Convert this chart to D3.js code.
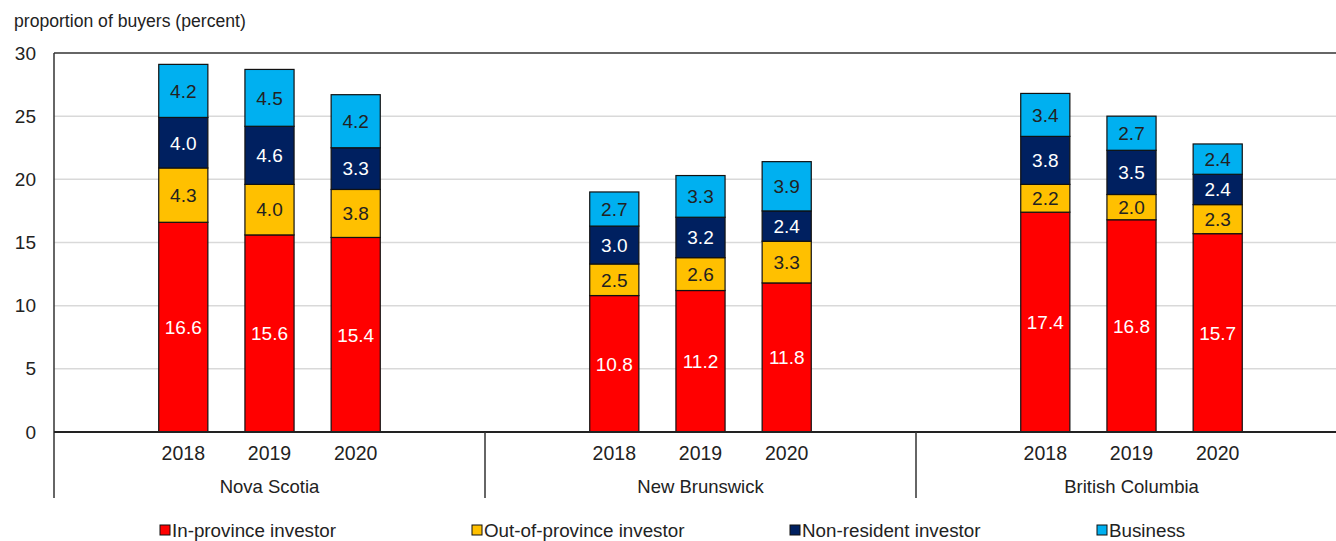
<!DOCTYPE html>
<html>
<head>
<meta charset="utf-8">
<script src="https://cdn.jsdelivr.net/npm/d3@7"></script>
<style>
  html, body { margin: 0; padding: 0; background: #fff; }
  svg { display: block; font-family: "Liberation Sans", Arial, sans-serif; }
</style>
</head>
<body>
<svg id="chart" width="1336" height="541"></svg>
<script>
// Provinces and years shown on the two-level category axis
const provinces = ["Nova Scotia", "New Brunswick", "British Columbia"];
const years = ["2018", "2019", "2020"];

// Buyer types (stack order, bottom to top)
const seriesNames = ["In-province investor", "Out-of-province investor", "Non-resident investor", "Business"];
const seriesColors = ["#ff0000", "#ffc000", "#002060", "#00b0f0"];
const labelColors = ["#ffffff", "#222222", "#ffffff", "#222222"];

// Values per province, one array per buyer type, in year order
const inProvince    = [[16.6, 15.6, 15.4], [10.8, 11.2, 11.8], [17.4, 16.8, 15.7]];
const outOfProvince = [[4.3, 4.0, 3.8],    [2.5, 2.6, 3.3],    [2.2, 2.0, 2.3]];
const nonResident   = [[4.0, 4.6, 3.3],    [3.0, 3.2, 2.4],    [3.8, 3.5, 2.4]];
const business      = [[4.2, 4.5, 4.2],    [2.7, 3.3, 3.9],    [3.4, 2.7, 2.4]];

const yTicks = [0, 5, 10, 15, 20, 25, 30];
const yTitle = "proportion of buyers (percent)";

// Flatten into rows for stacking
const rows = [];
provinces.forEach((p, pi) => {
  years.forEach((yr, yi) => {
    rows.push({
      key: p + "|" + yr, province: p, year: yr,
      [seriesNames[0]]: inProvince[pi][yi],
      [seriesNames[1]]: outOfProvince[pi][yi],
      [seriesNames[2]]: nonResident[pi][yi],
      [seriesNames[3]]: business[pi][yi]
    });
  });
});

const svg = d3.select("#chart");
const plotLeft = 54, plotRight = 1347, plotTop = 53, plotBottom = 432;
const textColor = "#222";

// Each province occupies five slots: an empty one either side of its three years
const slots = [];
provinces.forEach(p => {
  slots.push(p + "|_a");
  years.forEach(yr => slots.push(p + "|" + yr));
  slots.push(p + "|_b");
});

const x = d3.scaleBand().domain(slots).range([plotLeft, plotRight]).paddingInner(0.43).paddingOuter(0.215);
const xGroup = d3.scaleBand().domain(provinces).range([plotLeft, plotRight]);
const y = d3.scaleLinear().domain([0, 30]).range([plotBottom, plotTop]);

// Gridlines
svg.append("g")
  .selectAll("line")
  .data(yTicks.filter(t => t > 0 && t < 30))
  .join("line")
  .attr("x1", plotLeft).attr("x2", plotRight)
  .attr("y1", d => y(d)).attr("y2", d => y(d))
  .attr("stroke", "#d9d9d9").attr("stroke-width", 1.5);

// Plot frame: top and left edges
svg.append("line").attr("x1", plotLeft).attr("x2", plotRight).attr("y1", plotTop).attr("y2", plotTop)
  .attr("stroke", "#333").attr("stroke-width", 1.5);
svg.append("line").attr("x1", plotLeft).attr("x2", plotLeft).attr("y1", plotTop).attr("y2", 498)
  .attr("stroke", "#333").attr("stroke-width", 1.5);

// Y axis labels
const yAxis = d3.axisLeft(y).tickValues(yTicks).tickSize(0).tickPadding(18);
const gy = svg.append("g").attr("transform", `translate(${plotLeft},0)`).call(yAxis);
gy.select(".domain").remove();
gy.selectAll("text").attr("font-size", 19).attr("fill", textColor)
  .style("font-family", "inherit");

// Axis title
svg.append("text").attr("x", 14).attr("y", 27)
  .attr("font-size", 17.6).attr("fill", textColor).text(yTitle);

// Stacked bars
const stack = d3.stack().keys(seriesNames);
const stacked = stack(rows);

const layers = svg.append("g").selectAll("g")
  .data(stacked)
  .join("g")
  .attr("fill", (d, i) => seriesColors[i]);

layers.selectAll("rect")
  .data(d => d)
  .join("rect")
  .attr("x", d => x(d.data.key))
  .attr("width", x.bandwidth())
  .attr("y", d => y(d[1]))
  .attr("height", d => y(d[0]) - y(d[1]))
  .attr("stroke", "#111").attr("stroke-width", 1.2);

// Value labels in each segment
stacked.forEach((layer, i) => {
  svg.append("g").selectAll("text")
    .data(layer)
    .join("text")
    .attr("x", d => x(d.data.key) + x.bandwidth() / 2)
    .attr("y", d => y((d[0] + d[1]) / 2))
    .attr("dy", "0.36em")
    .attr("text-anchor", "middle")
    .attr("font-size", 19)
    .attr("fill", labelColors[i])
    .text(d => d3.format(".1f")(d[1] - d[0]));
});

// Baseline
svg.append("line").attr("x1", plotLeft).attr("x2", plotRight).attr("y1", plotBottom).attr("y2", plotBottom)
  .attr("stroke", "#222").attr("stroke-width", 2);

// Year labels
svg.append("g").selectAll("text")
  .data(rows)
  .join("text")
  .attr("x", d => x(d.key) + x.bandwidth() / 2)
  .attr("y", 460)
  .attr("text-anchor", "middle")
  .attr("font-size", 19.5).attr("fill", textColor)
  .text(d => d.year);

// Province labels and separators
svg.append("g").selectAll("text")
  .data(provinces)
  .join("text")
  .attr("x", d => xGroup(d) + xGroup.bandwidth() / 2)
  .attr("y", 493)
  .attr("text-anchor", "middle")
  .attr("font-size", 18.5).attr("fill", textColor)
  .text(d => d);

svg.append("g").selectAll("line")
  .data(provinces.slice(1))
  .join("line")
  .attr("x1", d => xGroup(d)).attr("x2", d => xGroup(d))
  .attr("y1", plotBottom).attr("y2", 498)
  .attr("stroke", "#333").attr("stroke-width", 1.5);

// Legend
const legendX = [160, 472, 790, 1097];
const legend = svg.append("g").selectAll("g")
  .data(seriesNames)
  .join("g")
  .attr("transform", (d, i) => `translate(${legendX[i]},525)`);
legend.append("rect")
  .attr("width", 10).attr("height", 10)
  .attr("fill", (d, i) => seriesColors[i])
  .attr("stroke", "#111").attr("stroke-width", 1);
legend.append("text")
  .attr("x", 12).attr("y", 12)
  .attr("font-size", 18.8).attr("fill", textColor)
  .text(d => d);
</script>
</body>
</html>
